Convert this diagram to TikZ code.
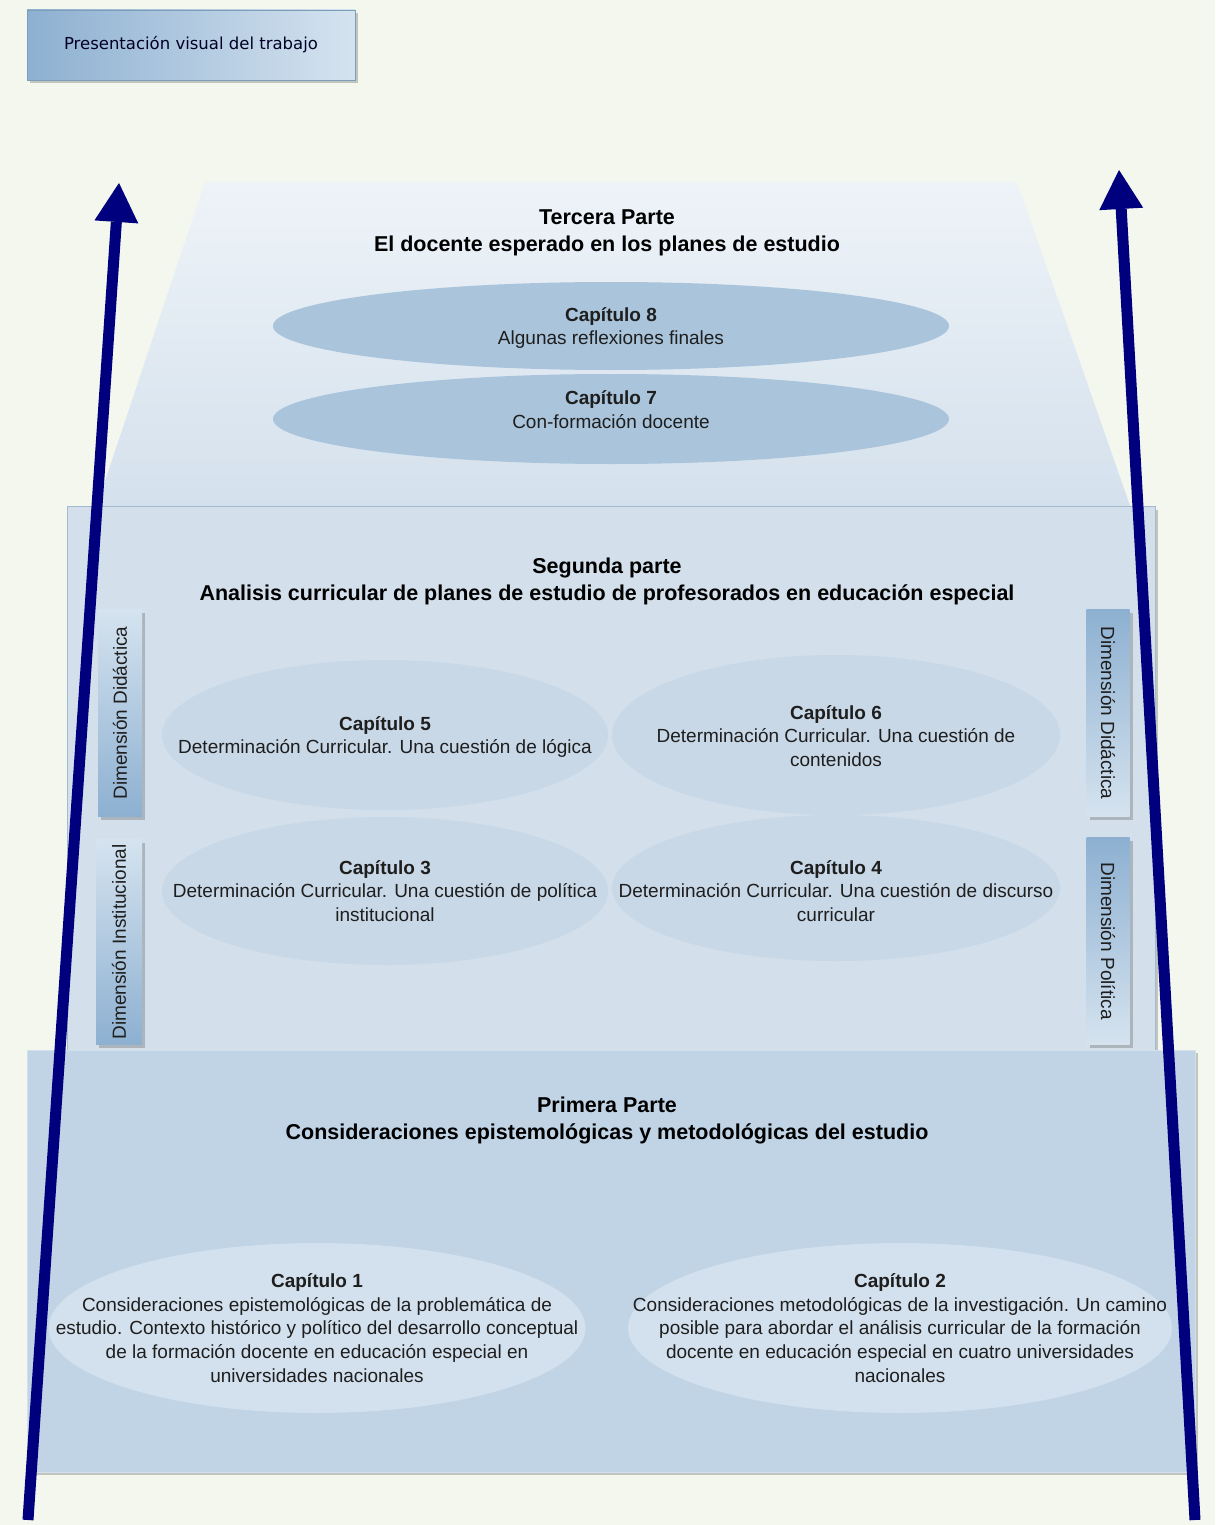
\documentclass[tikz,border=0pt]{standalone}
\usepackage{fontspec}
\usepackage{graphicx}
\setmainfont{Liberation Sans}
\newfontfamily\rotulofont{DejaVu Sans}
\usetikzlibrary{shapes.geometric,shadows,arrows.meta}
\definecolor{papel}{HTML}{F4F7EE}
\definecolor{azuloscuro}{HTML}{8DB0D1}
\definecolor{azulclaro}{HTML}{D5E3EF}
\definecolor{bordeazul}{HTML}{7D9DB9}
\definecolor{trapalto}{HTML}{EEF3F8}
\definecolor{trapbajo}{HTML}{D3E0EC}
\definecolor{capfuerte}{HTML}{A9C4DB}
\definecolor{segfondo}{HTML}{D3E0EB}
\definecolor{segborde}{HTML}{A3BBCF}
\definecolor{capmedio}{HTML}{C8D8E7}
\definecolor{primfondo}{HTML}{C0D4E6}
\definecolor{capsuave}{HTML}{D3E1EE}
\definecolor{flechaazul}{HTML}{00007F}
\definecolor{tinta}{HTML}{1E1E1E}

\begin{document}
\begin{tikzpicture}[x=1pt,y=-1pt,
    sombra/.style={drop shadow={shadow xshift=3pt,shadow yshift=-3pt,opacity=0.35,fill=black!60}},
    parte/.style={rectangle,inner sep=0pt,sombra},
    capitulo/.style={ellipse,draw=none,inner sep=0pt},
    captexto/.style={align=center,text=tinta,font=\fontsize{19}{23.8}\selectfont},
    titulo/.style={align=center,text=black,font=\bfseries\fontsize{21.5}{27}\selectfont},
    dimtab/.style={rectangle,inner sep=0pt,sombra,text=tinta,font=\fontsize{19}{21}\selectfont},
    flecha/.style={-{Triangle[width=44pt,length=39pt,line width=0pt]},line width=11pt,draw=flechaazul}]

    \useasboundingbox[fill=papel] (0,0) rectangle (1215,1525);

    \node[parte,minimum width=328pt,minimum height=70pt,left color=azuloscuro,right color=azulclaro,draw=bordeazul,
          font=\rotulofont\fontsize{16.5}{19}\selectfont,text=black!85!blue] (presentacion) at (191,45) {Presentación visual del trabajo};

    \shade[top color=trapalto,bottom color=trapbajo] (205,182) -- (1017,182) -- (1135,520) -- (92,520) -- cycle;

    \node[titulo] (tercera) at (607,233) {Tercera Parte\\El docente esperado en los planes de estudio};
    \node[capitulo,fill=capfuerte,minimum width=676pt,minimum height=88pt] (c8) at (611,326) {};
    \node[captexto] at (611,328) {\textbf{Capítulo 8}\\Algunas reflexiones finales};
    \node[capitulo,fill=capfuerte,minimum width=676pt,minimum height=90pt] (c7) at (611,419) {};
    \node[captexto] at (611,410) {\textbf{Capítulo 7}\\Con-formación docente};

    \node[parte,minimum width=1088pt,minimum height=545pt,fill=segfondo,draw=segborde] (segunda) at (611,779) {};
    \node[titulo] (segtitulo) at (607,581) {Segunda parte\\Analisis curricular de planes de estudio de profesorados en educación especial};

    \node[dimtab,minimum width=44pt,minimum height=207pt,bottom color=azuloscuro,top color=azulclaro] (didizq) at (120,713) {\rotatebox{90}{Dimensión Didáctica}};
    \node[dimtab,minimum width=46pt,minimum height=205pt,bottom color=azuloscuro,top color=azulclaro] (instizq) at (119,942) {\rotatebox{90}{Dimensión Institucional}};
    \node[dimtab,minimum width=43pt,minimum height=207pt,top color=azuloscuro,bottom color=azulclaro] (didder) at (1108,713) {\rotatebox{-90}{Dimensión Didáctica}};
    \node[dimtab,minimum width=43pt,minimum height=207pt,top color=azuloscuro,bottom color=azulclaro] (polder) at (1108,941) {\rotatebox{-90}{Dimensión Política}};

    \node[capitulo,fill=capmedio,minimum width=446pt,minimum height=150pt] (c5) at (385,735) {};
    \node[captexto] at (385,737) {\textbf{Capítulo 5}\\Determinación Curricular. Una cuestión de lógica};
    \node[capitulo,fill=capmedio,minimum width=448pt,minimum height=160pt] (c6) at (836,735) {};
    \node[captexto] at (836,736) {\textbf{Capítulo 6}\\Determinación Curricular. Una cuestión de\\contenidos};
    \node[capitulo,fill=capmedio,minimum width=446pt,minimum height=148pt] (c3) at (385,891) {};
    \node[captexto] at (385,891) {\textbf{Capítulo 3}\\Determinación Curricular. Una cuestión de política\\institucional};
    \node[capitulo,fill=capmedio,minimum width=448pt,minimum height=146pt] (c4) at (836,888) {};
    \node[captexto] at (836,891) {\textbf{Capítulo 4}\\Determinación Curricular. Una cuestión de discurso\\curricular};

    \node[parte,minimum width=1168pt,minimum height=422pt,fill=primfondo,draw=capsuave] (primera) at (611,1261) {};
    \node[titulo] (primtitulo) at (607,1120) {Primera Parte\\Consideraciones epistemológicas y metodológicas del estudio};

    \node[capitulo,fill=capsuave,minimum width=537pt,minimum height=170pt] (c1) at (317,1328) {};
    \node[captexto] at (c1) {\textbf{Capítulo 1}\\Consideraciones epistemológicas de la problemática de\\estudio. Contexto histórico y político del desarrollo conceptual\\de la formación docente en educación especial en\\universidades nacionales};
    \node[capitulo,fill=capsuave,minimum width=544pt,minimum height=170pt] (c2) at (900,1328) {};
    \node[captexto] at (c2) {\textbf{Capítulo 2}\\Consideraciones metodológicas de la investigación. Un camino\\posible para abordar el análisis curricular de la formación\\docente en educación especial en cuatro universidades\\nacionales};

    \coordinate (izqbase) at (28,1520);
    \coordinate (izqpunta) at (119,183);
    \coordinate (derbase) at (1195,1520);
    \coordinate (derpunta) at (1119,170);

    \draw[flecha] (izqbase) -- (izqpunta);
    \draw[flecha] (derbase) -- (derpunta);
\end{tikzpicture}
\end{document}
